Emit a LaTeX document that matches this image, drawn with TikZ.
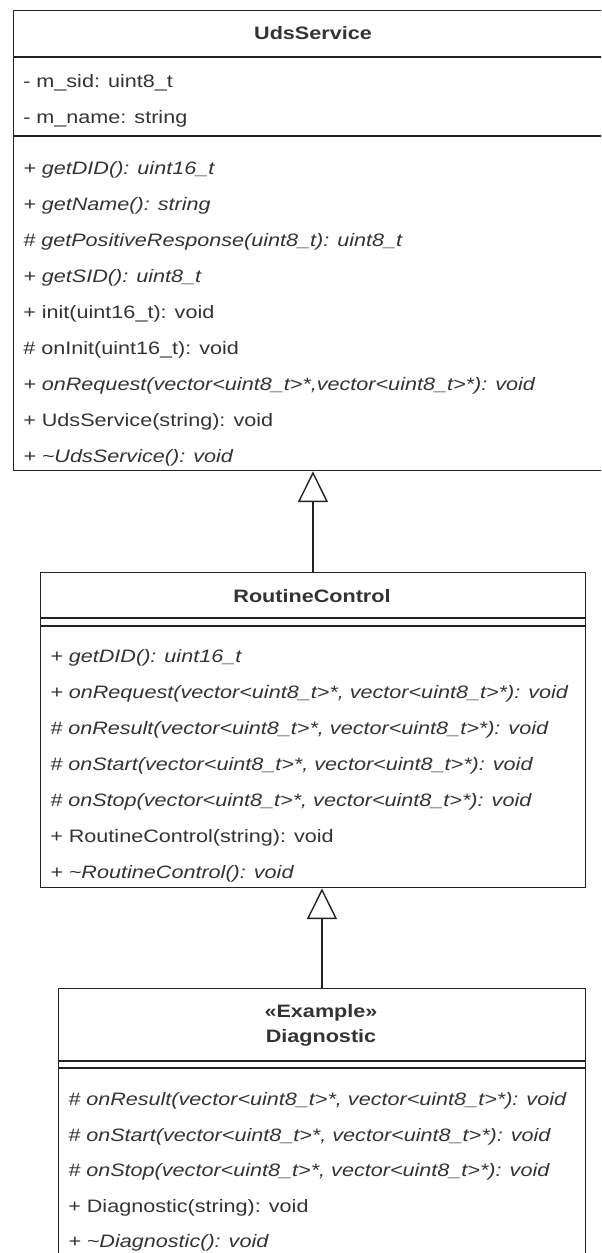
\documentclass[tikz,border=0pt]{standalone}
\usepackage{fontspec}
\setmainfont{Liberation Sans}[FakeStretch=1.2]
\usetikzlibrary{arrows.meta,positioning}
\definecolor{ink}{HTML}{222222}
\definecolor{txt}{HTML}{333333}
\newcommand{\umlfont}{\fontsize{13.5pt}{18.75pt}\selectfont}

\begin{document}
\begin{tikzpicture}[x=0.75pt,y=-0.75pt,font=\umlfont,
  classbox/.style={draw=ink,line width=1.05pt,anchor=north west,inner sep=0pt},
  classname/.style={font=\umlfont\bfseries,text=txt,align=center},
  divider/.style={draw=ink,line width=1.05pt},
  plain/.style={anchor=west,inner sep=0pt,text=txt},
  abstract/.style={plain,font=\umlfont\itshape},
  inherit/.style={draw=ink,line width=1.05pt,-{Triangle[open,length=23pt,width=22.5pt]}}]

\useasboundingbox (0,0) rectangle (601,1253);
\clip (0,0) rectangle (601,1253);

% UdsService
\node[classbox,minimum width=450pt,minimum height=345pt] (uds) at (13,10) {};
\node[classname] (uds-name) at (313,33) {UdsService};
\draw[divider] (uds.west |- 0,57) -- (uds.east |- 0,57);
\draw[divider] (uds.west |- 0,136) -- (uds.east |- 0,136);
\foreach \yy/\kind/\entry [count=\i] in {
  83/plain/{- m\_sid: uint8\_t},
  119/plain/{- m\_name: string}}
  \node[\kind] (uds-a\i) at (23,\yy) {\entry};
\foreach \yy/\kind/\entry [count=\i] in {
  170/abstract/{+ getDID(): uint16\_t},
  206/abstract/{+ getName(): string},
  242/abstract/{\# getPositiveResponse(uint8\_t): uint8\_t},
  278/abstract/{+ getSID(): uint8\_t},
  314/plain/{+ init(uint16\_t): void},
  350/plain/{\# onInit(uint16\_t): void},
  386/abstract/{+ onRequest(vector<uint8\_t>*,vector<uint8\_t>*): void},
  422/plain/{+ UdsService(string): void},
  458/abstract/{+ \textasciitilde UdsService(): void}}
  \node[\kind] (uds-m\i) at (23,\yy) {\entry};

% RoutineControl
\node[classbox,minimum width=408.4pt,minimum height=236.25pt] (rc) at (40,572) {};
\node[classname] (rc-name) at (312,596) {RoutineControl};
\draw[divider] (rc.west |- 0,618) -- (rc.east |- 0,618);
\draw[divider] (rc.west |- 0,626) -- (rc.east |- 0,626);
\foreach \yy/\kind/\entry [count=\i] in {
  658/abstract/{+ getDID(): uint16\_t},
  694/abstract/{+ onRequest(vector<uint8\_t>*, vector<uint8\_t>*): void},
  730/abstract/{\# onResult(vector<uint8\_t>*, vector<uint8\_t>*): void},
  766/abstract/{\# onStart(vector<uint8\_t>*, vector<uint8\_t>*): void},
  802/abstract/{\# onStop(vector<uint8\_t>*, vector<uint8\_t>*): void},
  838/plain/{+ RoutineControl(string): void},
  874/abstract/{+ \textasciitilde RoutineControl(): void}}
  \node[\kind] (rc-m\i) at (50,\yy) {\entry};

% Diagnostic
\node[classbox,minimum width=394.9pt,minimum height=225pt] (diag) at (58,988) {};
\node[classname] (diag-name) at (321,1025) {«Example»\\Diagnostic};
\draw[divider] (diag.west |- 0,1061) -- (diag.east |- 0,1061);
\draw[divider] (diag.west |- 0,1068) -- (diag.east |- 0,1068);
\foreach \yy/\kind/\entry [count=\i] in {
  1101/abstract/{\# onResult(vector<uint8\_t>*, vector<uint8\_t>*): void},
  1137/abstract/{\# onStart(vector<uint8\_t>*, vector<uint8\_t>*): void},
  1172/abstract/{\# onStop(vector<uint8\_t>*, vector<uint8\_t>*): void},
  1208/plain/{+ Diagnostic(string): void},
  1243/abstract/{+ \textasciitilde Diagnostic(): void}}
  \node[\kind] (diag-m\i) at (68,\yy) {\entry};

% generalisations
\draw[inherit] (rc.north) -- (rc.north |- uds.south);
\draw[inherit] (diag.north) -- (diag.north |- rc.south);
\end{tikzpicture}
\end{document}
